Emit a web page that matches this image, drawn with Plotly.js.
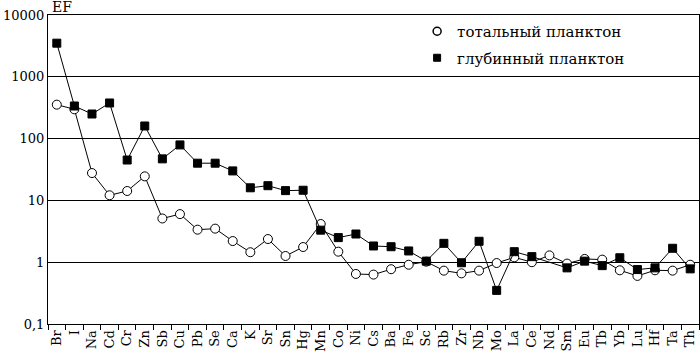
<!DOCTYPE html>
<html>
<head>
<meta charset="utf-8">
<script src="https://cdn.plot.ly/plotly-3.0.1.min.js"></script>
<style>body{margin:0;padding:0;background:#fff}#chart{width:700px;height:357px}</style>
</head>
<body>
<div id="chart"></div>
<script>
const elements = ["Br","I","Na","Cd","Cr","Zn","Sb","Cu","Pb","Se","Ca","K","Sr","Sn","Hg","Mn","Co","Ni","Cs","Ba","Fe","Sc","Rb","Zr","Nb","Mo","La","Ce","Nd","Sm","Eu","Tb","Yb","Lu","Hf","Ta","Th"];
const totalPlankton = [354,298,27.7,12.1,14.2,24.5,5.1,6.0,3.36,3.49,2.2,1.45,2.37,1.26,1.76,4.15,1.48,0.645,0.63,0.77,0.91,1.02,0.73,0.66,0.73,0.97,1.2,1.0,1.29,0.95,1.13,1.1,0.74,0.6,0.74,0.73,0.91];
const deepPlankton = [3500,337,250,377,45,160,47,79,40,40,30,16,17.3,14.4,14.6,3.3,2.5,2.86,1.83,1.78,1.52,1.04,2.02,0.98,2.18,0.35,1.48,1.23,null,0.81,1.04,0.88,1.18,0.76,0.81,1.68,0.78];
const yTickVals = [0.1,1,10,100,1000,10000];
const yTickText = ["0,1","1","10","100","1000","10000"];
const seriesNames = ["тотальный планктон","глубинный планктон"];

const serif = "DejaVu Serif";
const traces = [
  {x: elements, y: totalPlankton, mode: "lines+markers", type: "scatter", showlegend: false, connectgaps: true,
   line: {color: "#000", width: 1}, marker: {symbol: "circle", size: 9, color: "#fff", line: {color: "#000", width: 1}}},
  {x: elements, y: deepPlankton, mode: "lines+markers", type: "scatter", showlegend: false, connectgaps: true,
   line: {color: "#000", width: 1}, marker: {symbol: "square", size: 8, color: "#000", line: {color: "#000", width: 1}}},
  {x: [null], y: [null], mode: "markers", type: "scatter", name: seriesNames[0], legendgroup: "a",
   marker: {symbol: "circle", size: 8, color: "#fff", line: {color: "#000", width: 1.5}}},
  {x: [null], y: [null], mode: "markers", type: "scatter", name: seriesNames[1], legendgroup: "b",
   marker: {symbol: "square", size: 7, color: "#000", line: {color: "#000", width: 1}}}
];
const layout = {
  width: 700, height: 357,
  margin: {l: 48, r: 1, t: 15, b: 33},
  paper_bgcolor: "#fff", plot_bgcolor: "#fff",
  font: {family: serif, size: 13, color: "#000"},
  showlegend: true,
  legend: {x: 0.567, xanchor: "left", y: 1.0, yanchor: "top", bgcolor: "rgba(0,0,0,0)",
           font: {family: serif, size: 15, color: "#000"}, tracegroupgap: 4},
  xaxis: {type: "category", categoryorder: "array", categoryarray: elements,
          tickmode: "array", tickvals: elements, ticktext: elements,
          range: [-0.5, elements.length - 0.5],
          showline: true, linecolor: "#000", linewidth: 1, mirror: true,
          ticks: "outside", tickson: "boundaries", ticklen: 5, tickcolor: "#000", tickwidth: 1,
          tickangle: -90, showgrid: false, zeroline: false,
          tickfont: {family: serif, size: 13, color: "#000"}},
  yaxis: {type: "log", range: [-1, 4],
          tickvals: yTickVals, ticktext: yTickText,
          showline: true, linecolor: "#000", linewidth: 1, mirror: true,
          ticks: "", showgrid: true, gridcolor: "#000", gridwidth: 1, zeroline: false,
          tickfont: {family: serif, size: 13, color: "#000"}},
  annotations: [
    {text: "EF", xref: "paper", yref: "paper", x: 0, y: 1, xanchor: "left", yanchor: "bottom",
     xshift: 2, yshift: -2, showarrow: false, font: {family: serif, size: 14, color: "#000"}}
  ]
};
Plotly.newPlot("chart", traces, layout, {displayModeBar: false, staticPlot: true});
</script>
</body>
</html>
